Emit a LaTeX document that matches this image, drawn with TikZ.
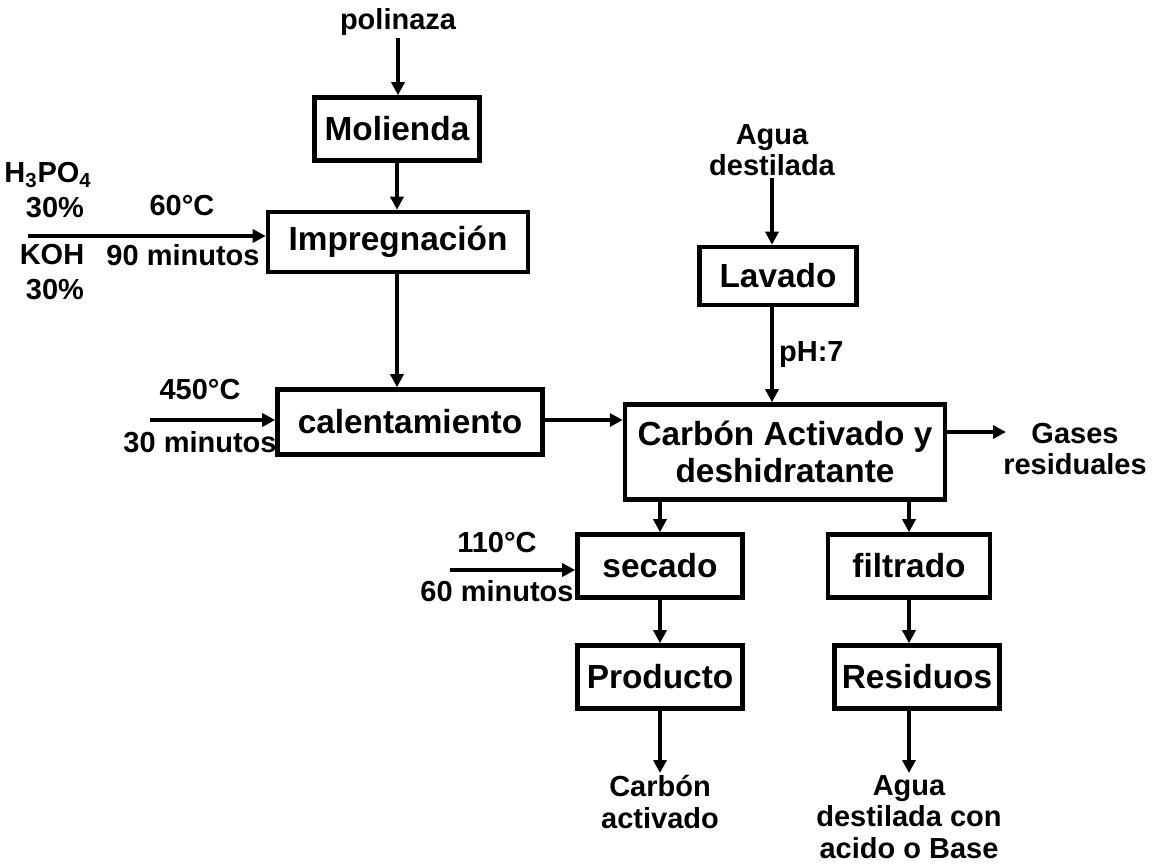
\documentclass[tikz,border=0pt]{standalone}
\usepackage{fontspec}
\setmainfont{Liberation Sans}
\usetikzlibrary{arrows.meta, positioning, calc}

\begin{document}
\begin{tikzpicture}[
        x=0.02cm, y=-0.02cm,
        box/.style={draw, line width=2.6pt, minimum width=3.3cm, minimum height=1.26cm, align=center, inner sep=2pt, font=\fontsize{19}{21}\selectfont\bfseries},
        lbl/.style={align=center, inner sep=1pt, font=\fontsize{16.5}{18}\selectfont\bfseries},
        flow/.style={-{Triangle[length=2.6mm, width=2.6mm]}, line width=2.1pt}
    ]
        \useasboundingbox (0,0) rectangle (1153,863);
        \node[box] (mol) at (397,129) {Molienda};
        \node[box, minimum width=5.2cm, minimum height=1.2cm] (imp) at (398,242) {Impregnación};
        \node[box, minimum width=5.3cm, minimum height=1.3cm] (cal) at (410,422) {calentamiento};
        \node[box, minimum width=3.14cm, minimum height=1.16cm] (lav) at (778,276) {Lavado};
        \node[box, minimum width=6.4cm, minimum height=1.9cm] (car) at (785,452) {Carbón Activado y\\deshidratante};
        \node[box] (sec) at (660,566) {secado};
        \node[box, minimum width=3.24cm] (fil) at (909,566) {filtrado};
        \node[box] (pro) at (660,677) {Producto};
        \node[box] (res) at (917,677) {Residuos};

        \node[lbl] (pol) at (398,22) {polinaza};
        \node[lbl] (agua) at (772,150) {Agua\\destilada};
        \node[lbl] (gas) at (1075,449) {Gases\\residuales};
        \node[lbl, anchor=north] (cact) at (660,773) {Carbón\\activado};
        \node[lbl, anchor=north] (aguab) at (909,773) {Agua\\destilada con\\acido o Base};

        \node[lbl] (h3po4) at (48,175) {H\textsubscript{3}PO\textsubscript{4}};
        \node[lbl] (c1) at (55,208) {30\%};
        \node[lbl] (t1) at (182,206) {60°C};
        \node[lbl] (koh) at (52,255) {KOH};
        \node[lbl] (m1) at (183,255) {90 minutos};
        \node[lbl] (c2) at (55,290) {30\%};
        \node[lbl] (t2) at (200,390) {450°C};
        \node[lbl] (m2) at (200,442) {30 minutos};
        \node[lbl] (t3) at (497,543) {110°C};
        \node[lbl] (m3) at (497,591) {60 minutos};

        \coordinate (in1) at (28,236);
        \coordinate (in2) at (150,420);
        \coordinate (in3) at (450,570);
        \coordinate (gasend) at (1006,432);

        \draw[flow] (pol) -- (pol |- mol.north);
        \draw[flow] (mol) -- (mol |- imp.north);
        \draw[flow] (in1) -- (in1 -| imp.west);
        \draw[flow] (imp.south -| mol) -- (mol |- cal.north);
        \draw[flow] (in2) -- (in2 -| cal.west);
        \draw[flow] (cal.east |- in2) -- (in2 -| car.west);
        \draw[flow] (agua) -- (agua |- lav.north);
        \draw[flow] (lav.south -| agua) -- (agua |- car.north) node[lbl, midway, right=2pt] {pH:7};
        \draw[flow] (car.east |- gasend) -- (gasend);
        \draw[flow] (car.south -| sec) -- (sec);
        \draw[flow] (car.south -| fil) -- (fil);
        \draw[flow] (in3) -- (in3 -| sec.west);
        \draw[flow] (sec) -- (pro);
        \draw[flow] (fil) -- (fil |- res.north);
        \draw[flow] (pro) -- (cact);
        \draw[flow] (res.south -| aguab) -- (aguab);
    \end{tikzpicture}
\end{document}
